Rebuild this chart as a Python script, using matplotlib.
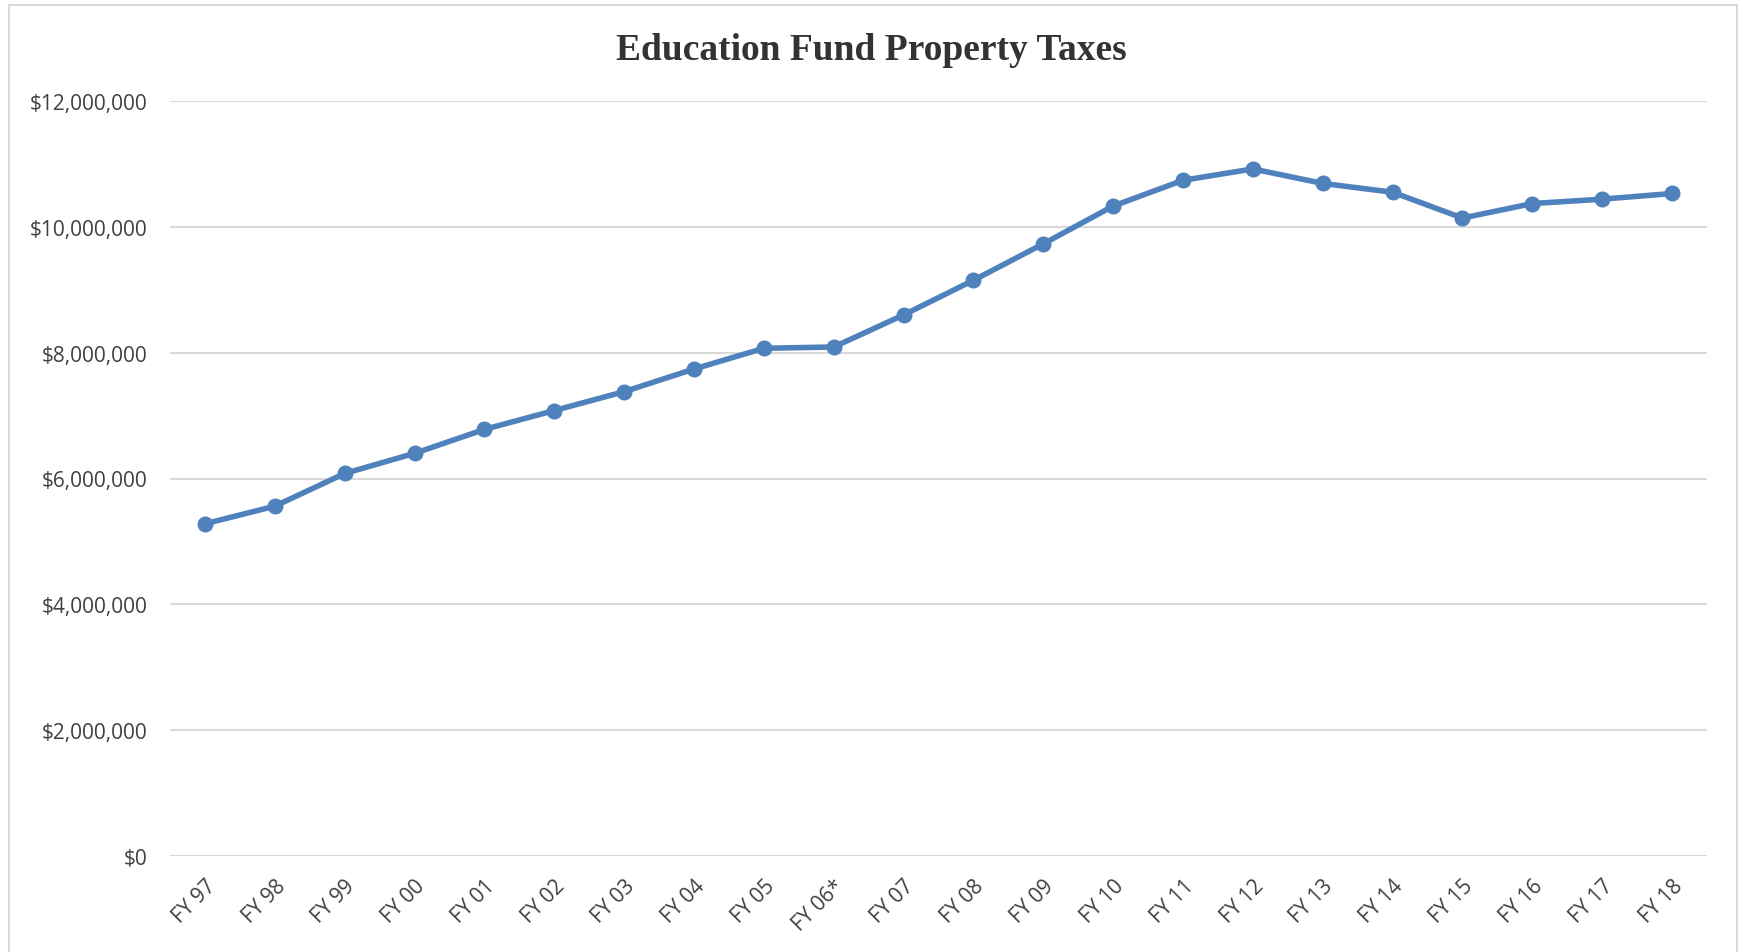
import matplotlib
matplotlib.use("Agg")
import matplotlib.pyplot as plt
from matplotlib.patches import Rectangle
from matplotlib.ticker import FuncFormatter, MultipleLocator

# fiscal years and education fund property tax totals (dollars)
years = ["FY 97", "FY 98", "FY 99", "FY 00", "FY 01", "FY 02", "FY 03", "FY 04",
         "FY 05", "FY 06*", "FY 07", "FY 08", "FY 09", "FY 10", "FY 11", "FY 12",
         "FY 13", "FY 14", "FY 15", "FY 16", "FY 17", "FY 18"]
taxes = [5280000, 5560000, 6080000, 6400000, 6780000, 7080000, 7380000, 7740000,
         8070000, 8090000, 8600000, 9150000, 9730000, 10330000, 10740000, 10920000,
         10690000, 10550000, 10140000, 10370000, 10440000, 10530000]

W, H = 1743, 953
fig = plt.figure(figsize=(W / 100, H / 100), dpi=100)
fig.patch.set_facecolor("white")

# chart frame
fig.patches.append(Rectangle((9 / W, -0.05), (1737 - 9) / W, 1.05 - 6 / H,
                             transform=fig.transFigure, fill=False,
                             edgecolor="#d9d9d9", linewidth=1.5))

left, right = 170 / W, 1707 / W
bottom, top = 1 - 857 / H, 1 - 102 / H
ax = fig.add_axes([left, bottom, right - left, top - bottom])

x = list(range(len(years)))
ax.plot(x, taxes, color="#4f81bd", linewidth=4, marker="o", markersize=10.5,
        solid_joinstyle="round", zorder=3)

ax.set_xlim(-0.5, len(years) - 0.5)
ax.set_ylim(0, 12000000)
ax.yaxis.set_major_locator(MultipleLocator(2000000))
ax.yaxis.set_major_formatter(FuncFormatter(lambda v, p: "${:,.0f}".format(v)))
ax.grid(axis="y", color="#d9d9d9", linewidth=1.5, zorder=0)
ax.set_axisbelow(True)

for s in ax.spines.values():
    s.set_visible(False)

ax.tick_params(axis="both", length=0, labelsize=15, labelcolor="#404040")
ax.tick_params(axis="y", pad=16)
ax.set_xticks(x)
ax.set_xticklabels(years, rotation=45, ha="right", rotation_mode="anchor",
                   family="Open Sans")
ax.tick_params(axis="x", pad=14)
for lbl in ax.get_yticklabels():
    lbl.set_family("Open Sans")

fig.text(0.5, 1 - 51 / H, "Education Fund Property Taxes", ha="center", va="center",
         fontsize=27, fontweight="bold", family="Liberation Serif", color="#333333")

fig.savefig("out.png", dpi=100, facecolor="white")
